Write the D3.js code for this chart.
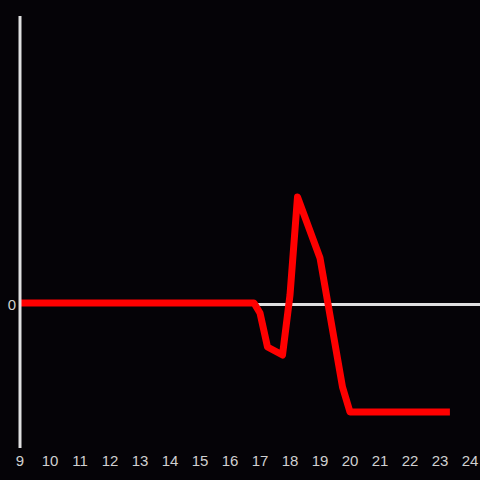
<!DOCTYPE html>
<html>
<head>
<meta charset="utf-8">
<script src="https://cdn.jsdelivr.net/npm/d3@7"></script>
<style>
  html, body { margin: 0; padding: 0; background: #050307; }
  svg { display: block; }
</style>
</head>
<body>
<svg id="chart"></svg>
<script>
var hours  = [9, 16.8, 17.0, 17.25, 17.75, 18.0, 18.25, 19.0, 19.75, 20.0, 23.33];
var values = [0, 0, -10, -44, -52, 8, 106, 45, -84, -109, -109];
var xTicks = [9, 10, 11, 12, 13, 14, 15, 16, 17, 18, 19, 20, 21, 22, 23, 24];

var width = 480, height = 480;
var svg = d3.select("#chart")
  .attr("width", width)
  .attr("height", height);

svg.append("rect").attr("width", width).attr("height", height).attr("fill", "#050307");

var x = d3.scaleLinear().domain([9, 24]).range([20, 470]);
var y = d3.scaleLinear().domain([-145, 287]).range([448, 16]);

var data = hours.map(function(h, i) { return {h: h, v: values[i]}; });

// zero line
svg.append("line")
  .attr("x1", x(9)).attr("x2", 480)
  .attr("y1", y(0) + 1.5).attr("y2", y(0) + 1.5)
  .style("stroke", "#e0e0e0")
  .style("stroke-width", 3);

var line = d3.line()
  .x(function(d) { return x(d.h); })
  .y(function(d) { return y(d.v); });

svg.append("path")
  .datum(data)
  .attr("d", line)
  .style("fill", "none")
  .style("stroke", "#ff0000")
  .style("stroke-width", 7)
  .style("stroke-linejoin", "round");

// y axis line
svg.append("line")
  .attr("x1", x(9)).attr("x2", x(9))
  .attr("y1", y(287)).attr("y2", y(-145))
  .style("stroke", "#e0e0e0")
  .style("stroke-width", 3);

// x tick labels
svg.append("g")
  .selectAll("text")
  .data(xTicks)
  .enter().append("text")
    .attr("x", function(d) { return x(d); })
    .attr("y", 465.5)
    .attr("text-anchor", "middle")
    .style("font-family", "Liberation Sans, Arial, sans-serif")
    .style("font-size", "15px")
    .style("fill", "#d0d0d0")
    .text(function(d) { return d; });

svg.append("text")
  .attr("x", 12)
  .attr("y", y(0) + 1.5)
  .attr("dy", "0.35em")
  .attr("text-anchor", "middle")
  .style("font-family", "Liberation Sans, Arial, sans-serif")
  .style("font-size", "15px")
  .style("fill", "#d0d0d0")
  .text("0");
</script>
</body>
</html>
